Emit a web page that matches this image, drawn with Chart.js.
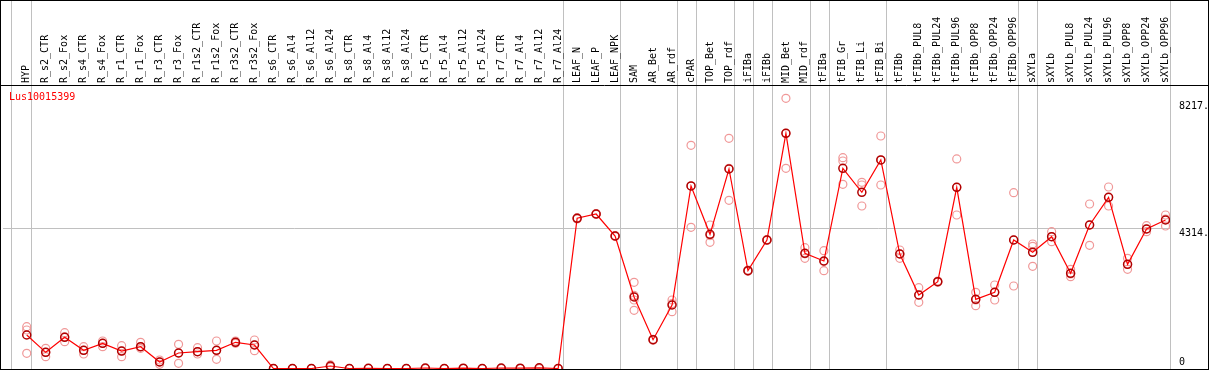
<!DOCTYPE html>
<html>
<head>
<meta charset="utf-8">
<script src="https://cdn.jsdelivr.net/npm/chart.js@4.4.1/dist/chart.umd.min.js"></script>
<style>
  html, body { margin: 0; padding: 0; background: #fff; }
  #wrap { width: 1209px; height: 370px; }
</style>
</head>
<body>
<div id="wrap"><canvas id="myChart" width="1209" height="370"></canvas></div>
<script>
const geneName = 'Lus10015399';

const categories = ['HYP', 'R_s2_CTR', 'R_s2_Fox', 'R_s4_CTR', 'R_s4_Fox', 'R_r1_CTR', 'R_r1_Fox',
    'R_r3_CTR', 'R_r3_Fox', 'R_r1s2_CTR', 'R_r1s2_Fox', 'R_r3s2_CTR', 'R_r3s2_Fox',
    'R_s6_CTR', 'R_s6_Al4', 'R_s6_Al12', 'R_s6_Al24', 'R_s8_CTR', 'R_s8_Al4', 'R_s8_Al12', 'R_s8_Al24',
    'R_r5_CTR', 'R_r5_Al4', 'R_r5_Al12', 'R_r5_Al24', 'R_r7_CTR', 'R_r7_Al4', 'R_r7_Al12', 'R_r7_Al24',
    'LEAF_N', 'LEAF_P', 'LEAF_NPK', 'SAM', 'AR_Bet', 'AR_rdf', 'cPAR', 'TOP_Bet', 'TOP_rdf',
    'iFIBa', 'iFIBb', 'MID_Bet', 'MID_rdf', 'tFIBa', 'tFIB_Gr', 'tFIB_Li', 'tFIB_Bi', 'tFIBb',
    'tFIBb_PUL8', 'tFIBb_PUL24', 'tFIBb_PUL96', 'tFIBb_OPP8', 'tFIBb_OPP24', 'tFIBb_OPP96',
    'sXYLa', 'sXYLb', 'sXYLb_PUL8', 'sXYLb_PUL24', 'sXYLb_PUL96', 'sXYLb_OPP8', 'sXYLb_OPP24', 'sXYLb_OPP96'];

// mean expression per sample
const means = [1031, 498, 960, 560, 775, 538, 671, 200, 477, 517, 560, 806, 723,
    0, 0, 0, 77, 0, 5, 0, 0, 15, 0, 10, 0, 15, 10, 20, 0,
    4622, 4754, 4077, 2200, 886, 1954, 5616, 4129, 6139, 3010, 3954, 7237, 3545,
    3308, 6160, 5422, 6416, 3523, 2262, 2672, 5575, 2129, 2345, 3954,
    3575, 4056, 2929, 4416, 5268, 3206, 4292, 4569];

// individual replicates
const repA = [1286, 621, 1102, 671, 846, 702, 806, 262, 745, 640, 846, 846, 877,
    0, 0, 0, 110, 0, 0, 0, 0, 0, 0, 0, 0, 0, 0, 0, 0,
    4640, 4770, 4090, 2652, 900, 2108, 6868, 4416, 7083, 3030, 3970, 8314, 3717,
    3625, 6487, 5729, 7154, 3646, 2487, 2690, 6447, 2345, 2569, 5411,
    3831, 4210, 3052, 5062, 5585, 3391, 4394, 4723];
const repB = [1185, 498, 978, 560, 775, 538, 671, 200, 477, 517, 560, 806, 723,
    0, 0, 0, 77, 0, 0, 0, 0, 0, 0, 0, 0, 0, 0, 0, 0,
    4622, 4754, 4077, 2250, 886, 2000, 5616, 4090, 6160, 3010, 3954, 7237, 3530,
    3290, 6385, 5646, 6416, 3530, 2262, 2672, 5575, 2110, 2345, 3954,
    3760, 4056, 2910, 4416, 5268, 3206, 4292, 4600];
const repC = [468, 363, 825, 446, 671, 363, 621, 129, 160, 446, 283, 775, 548,
    0, 0, 0, 45, 0, 0, 0, 0, 0, 0, 0, 0, 0, 0, 0, 0,
    4600, 4740, 4060, 2108, 870, 1748, 4344, 3883, 5175, 2990, 3940, 6160, 3391,
    3010, 5668, 5000, 5646, 3391, 2037, 2655, 4723, 1932, 2108, 2539,
    3145, 3902, 2825, 3791, 5000, 3052, 4210, 4384];
const repD = { 32: 1791 };

const yTicks = [0, 4314, 8217];
const yTickText = ['0', '4314.', '8217.'];
const gridValue = 4314;

// sample indices after which a group separator is drawn
const groupEnds = [0, 28, 31, 34, 35, 37, 38, 39, 41, 42, 45, 52, 53, 60];

const monoFont = 'DejaVu Sans Mono';

const meanPoints = categories.map((c, i) => ({ x: i, y: means[i] }));
const repPoints = [];
categories.forEach((c, i) => {
    [repA[i], repB[i], repC[i]].forEach(v => repPoints.push({ x: i, y: v }));
    if (repD[i] !== undefined) repPoints.push({ x: i, y: repD[i] });
});

const framePlugin = {
    id: 'frame',
    beforeDraw(chart) {
        const c = chart.ctx;
        const xs = chart.scales.x;
        c.save();
        c.fillStyle = '#fff';
        c.fillRect(0, 0, chart.width, chart.height);
        c.strokeStyle = '#c0c0c0';
        c.lineWidth = 1;
        const lines = [-0.85].concat(groupEnds.map(i => i + 0.25));
        lines.forEach(v => {
            const px = Math.round(xs.getPixelForValue(v)) + 0.5;
            c.beginPath();
            c.moveTo(px, 0);
            c.lineTo(px, chart.chartArea.bottom);
            c.stroke();
        });
        c.restore();
    },
    afterDraw(chart) {
        const c = chart.ctx;
        const area = chart.chartArea;
        const ys = chart.scales.y;
        c.save();
        c.strokeStyle = '#000';
        c.lineWidth = 1;
        c.strokeRect(0.5, 0.5, chart.width - 1, area.bottom);
        c.beginPath();
        c.moveTo(0, area.top + 0.5);
        c.lineTo(chart.width, area.top + 0.5);
        c.stroke();

        c.font = '10px "' + monoFont + '"';
        c.fillStyle = '#ff0000';
        c.textBaseline = 'middle';
        c.textAlign = 'left';
        c.fillText(geneName, 9, area.top + 12);

        c.fillStyle = '#000';
        yTicks.forEach((v, k) => {
            const py = Math.min(ys.getPixelForValue(v) + 5, area.bottom - 7);
            c.fillText(yTickText[k], area.right + 9, py);
        });
        c.restore();
    }
};

const ctx = document.getElementById('myChart').getContext('2d');
const myChart = new Chart(ctx, {
    type: 'line',
    data: {
        datasets: [{
            data: meanPoints,
            borderColor: '#ff0000',
            borderWidth: 1.2,
            tension: 0,
            pointRadius: 4,
            pointBorderWidth: 1.5,
            pointBorderColor: '#b00000',
            pointBackgroundColor: 'rgba(0,0,0,0)'
        }, {
            type: 'scatter',
            data: repPoints,
            showLine: false,
            pointRadius: 4,
            pointBorderWidth: 1.2,
            pointBorderColor: '#f09898',
            pointBackgroundColor: 'rgba(0,0,0,0)'
        }]
    },
    options: {
        responsive: false,
        animation: false,
        events: [],
        layout: { autoPadding: false, padding: { left: 3, right: 0, top: 0, bottom: 1 } },
        plugins: {
            legend: { display: false },
            tooltip: { enabled: false }
        },
        scales: {
            x: {
                type: 'linear',
                position: 'top',
                min: -1.25,
                max: 60.236,
                afterBuildTicks: s => { s.ticks = categories.map((c, i) => ({ value: i })); },
                afterFit: s => { s.height = 85; },
                grid: { display: false, drawTicks: false },
                border: { display: false },
                ticks: {
                    autoSkip: false,
                    minRotation: 90,
                    maxRotation: 90,
                    padding: 2,
                    labelOffset: 12,
                    color: '#000',
                    font: { family: monoFont, size: 10 },
                    callback: v => categories[v]
                }
            },
            y: {
                type: 'linear',
                position: 'right',
                min: -15,
                max: 8723,
                afterBuildTicks: s => { s.ticks = yTicks.map(v => ({ value: v })); },
                afterFit: s => { s.width = 39; },
                grid: {
                    drawTicks: false,
                    color: c => (c.tick && c.tick.value === gridValue) ? '#c0c0c0' : 'rgba(0,0,0,0)'
                },
                border: { display: false },
                ticks: { display: false }
            }
        }
    },
    plugins: [framePlugin]
});
</script>
</body>
</html>
